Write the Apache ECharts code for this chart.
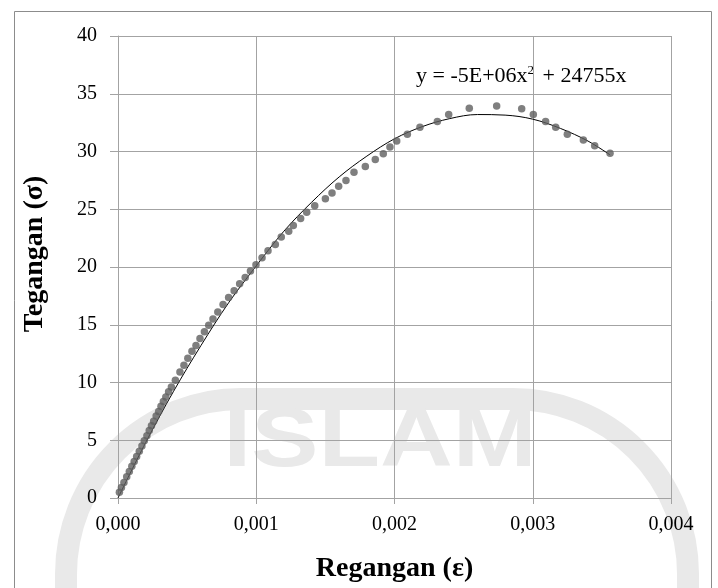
<!DOCTYPE html>
<html>
<head>
<meta charset="utf-8">
<script src="https://cdn.jsdelivr.net/npm/echarts@6/dist/echarts.min.js"></script>
<style>html,body{margin:0;padding:0;background:#fff;}#c{width:718px;height:588px;}</style>
</head>
<body>
<div id="c"></div>
<script>
// Strain (ε) and stress (σ) test points
const strainPts = [0.000010,0.000025,0.000043,0.000063,0.000082,0.000100,0.000117,0.000135,0.000154,0.000173,0.000190,0.000209,0.000226,0.000242,0.000258,0.000276,0.000294,0.000311,0.000328,0.000346,0.000366,0.000386,0.000415,0.000448,0.000477,0.000505,0.000535,0.000564,0.000593,0.000625,0.000656,0.000687,0.000722,0.000760,0.000800,0.000840,0.000880,0.000920,0.000958,0.000998,0.001042,0.001085,0.001138,0.001181,0.001235,0.001268,0.001321,0.001365,0.001423,0.001500,0.001548,0.001596,0.001649,0.001707,0.001789,0.001861,0.001919,0.001967,0.002016,0.002093,0.002184,0.002310,0.002392,0.002541,0.002739,0.002920,0.003004,0.003093,0.003166,0.003250,0.003366,0.003448,0.003559];
const stressPts = [0.5,0.9,1.35,1.85,2.3,2.75,3.15,3.6,4.05,4.5,4.95,5.4,5.85,6.25,6.65,7.1,7.5,7.95,8.35,8.75,9.2,9.6,10.2,10.9,11.5,12.1,12.7,13.2,13.8,14.4,14.95,15.5,16.1,16.75,17.35,17.95,18.55,19.1,19.65,20.2,20.8,21.4,21.95,22.6,23.1,23.6,24.2,24.75,25.3,25.9,26.4,27.0,27.5,28.2,28.7,29.3,29.8,30.4,30.9,31.5,32.1,32.6,33.2,33.75,33.95,33.7,33.2,32.6,32.1,31.5,31.0,30.5,29.85];
// Trendline
const trendX = [0,0.0002,0.0004,0.0006,0.0008,0.0010,0.0012,0.0014,0.0016,0.0018,0.0020,0.0022,0.0024,0.0026,0.0028,0.0030,0.0032,0.0034,0.00356];
const trendY = [0,4.8,9.2,13.2,16.9,20.1,23.1,25.6,27.8,29.6,31.1,32.15,32.85,33.2,33.15,32.8,32.0,30.9,29.7];
const xTicks = ['0,000','0,001','0,002','0,003','0,004'];
const xTitle = 'Regangan (ε)';
const yTitle = 'Tegangan (σ)';
const eqText = 'y = -5E+06x{sup|2} + 24755x';
const watermark = 'ISLAM';

const pts = strainPts.map((x,i)=>[x,stressPts[i]]);
const trend = trendX.map((x,i)=>[x,trendY[i]]);
const FONT = '"Liberation Serif","Times New Roman",serif';
const GRID = '#a3a3a3';
const WM = '#e9e9e9';

const chart = echarts.init(document.getElementById('c'), null, {renderer:'canvas'});
chart.setOption({
  backgroundColor:'#ffffff',
  animation:false,
  grid:{left:118,right:47,top:36,bottom:88,containLabel:false},
  xAxis:{
    type:'value',min:0,max:0.004,interval:0.001,
    axisLine:{show:true,onZero:false,lineStyle:{color:GRID,width:1}},
    axisTick:{show:true,length:6,inside:false,lineStyle:{color:GRID}},
    splitLine:{show:true,lineStyle:{color:GRID,width:1}},
    axisLabel:{margin:17,color:'#000',fontFamily:FONT,fontSize:20,
      formatter:(v)=>xTicks[Math.round(v/0.001)]},
    name:xTitle,nameLocation:'middle',nameGap:57,
    nameTextStyle:{color:'#000',fontFamily:FONT,fontSize:28,fontWeight:'bold'}
  },
  yAxis:{
    type:'value',min:0,max:40,interval:5,
    axisLine:{show:true,lineStyle:{color:GRID,width:1}},
    axisTick:{show:true,length:8,inside:false,lineStyle:{color:GRID}},
    splitLine:{show:true,lineStyle:{color:GRID,width:1}},
    axisLabel:{margin:21,color:'#000',fontFamily:FONT,fontSize:20}
  },
  graphic:[
    {type:'rect',left:12,top:9,shape:{width:697,height:578},style:{fill:null,stroke:'#8c8c8c',lineWidth:1},silent:true,z:-1},
    {type:'rect',x:66,y:399,shape:{width:622,height:500,r:175},style:{fill:null,stroke:WM,lineWidth:22},silent:true,z:-20},
    {type:'text',x:380,y:443,scaleX:1.2,silent:true,z:-20,style:{text:watermark,fill:WM,font:'bold 84px "Liberation Sans",sans-serif',align:'center',verticalAlign:'middle'}},
    {type:'text',x:35,y:254,rotation:Math.PI/2,style:{text:yTitle,fill:'#000',font:'bold 28px '+FONT,align:'center',verticalAlign:'middle'}},
    {type:'text',left:416,top:64,style:{
      text:eqText,fill:'#000',font:'22px '+FONT,
      rich:{sup:{fontSize:13,verticalAlign:'top',padding:[0,3,11,0],fontFamily:FONT,fill:'#000'}}
    }}
  ],
  series:[
    {type:'line',data:trend,smooth:0.35,symbol:'none',lineStyle:{color:'#000',width:1},z:2},
    {type:'scatter',data:pts,symbol:'circle',symbolSize:7.5,itemStyle:{color:'#5f5f5f'},z:3}
  ]
});
</script>
</body>
</html>
